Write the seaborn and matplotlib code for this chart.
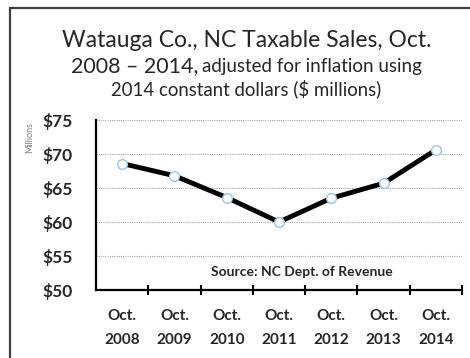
import matplotlib
matplotlib.use("Agg")
import matplotlib.pyplot as plt
from matplotlib.lines import Line2D
from matplotlib.ticker import FixedLocator
import seaborn as sns
import pandas as pd

# Watauga County taxable sales, October of each year, 2014 dollars ($ millions)
years = ["Oct.\n2008", "Oct.\n2009", "Oct.\n2010", "Oct.\n2011",
         "Oct.\n2012", "Oct.\n2013", "Oct.\n2014"]
sales = [68.6, 66.8, 63.6, 60.0, 63.5, 65.7, 70.6]
y_ticks = [50, 55, 60, 65, 70, 75]
y_tick_labels = ["$50", "$55", "$60", "$65", "$70", "$75"]

df = pd.DataFrame({"pos": range(len(years)), "sales": sales})

sns.set_theme(style="white")
plt.rcParams["font.family"] = ["Lato", "DejaVu Sans"]

W, H = 470, 358
fig = plt.figure(figsize=(W / 100, H / 100), dpi=100)
ax = fig.add_axes([96 / W, 1 - 290 / H, 366 / W, 170 / H])

sns.lineplot(data=df, x="pos", y="sales", ax=ax, color="black", linewidth=3.5,
             marker="o", markersize=7, markerfacecolor="white",
             markeredgecolor="#9dc3e6", markeredgewidth=1.0, zorder=3)

ax.set_xlim(-0.5, len(years) - 0.5)
ax.set_ylim(50, 75)
ax.set_xlabel("")
ax.set_ylabel("")

# y axis: bold dollar labels and dotted gridlines
ax.yaxis.set_major_locator(FixedLocator(y_ticks))
ax.set_yticklabels(y_tick_labels, fontsize=12.5, fontweight="bold")
ax.tick_params(axis="y", length=0, pad=17)
ax.grid(axis="y", color="#a6a6a6", linestyle=(0, (1, 1)), linewidth=0.8)

# x axis: labels at category centres, tick marks on category boundaries
ax.xaxis.set_major_locator(FixedLocator(range(len(years))))
ax.set_xticklabels(years, fontsize=11, fontweight="bold", linespacing=1.85)
ax.tick_params(axis="x", which="major", length=0, pad=14)
ax.xaxis.set_minor_locator(FixedLocator([i + 0.5 for i in range(len(years))]))
ax.tick_params(axis="x", which="minor", length=7, width=1.5, direction="inout",
               color="black", bottom=True)

for side in ["top", "right"]:
    ax.spines[side].set_visible(False)
for side in ["left", "bottom"]:
    ax.spines[side].set_color("black")
    ax.spines[side].set_linewidth(1.6)

ax.text(0.563, 0.106, "Source: NC Dept. of Revenue", transform=ax.transAxes,
        ha="center", va="center", fontsize=10, fontweight="bold")

# Title block
title_color = "#262626"
fig.text(246.5 / W, 1 - 47 / H, "Watauga Co., NC Taxable Sales, Oct.",
         ha="center", va="baseline", fontsize=16.5, color=title_color)
fig.text(198 / W, 1 - 72 / H, "2008 \u2013 2014,", ha="right", va="baseline",
         fontsize=15.5, color=title_color)
fig.text(202 / W, 1 - 72 / H, "adjusted for inflation using", ha="left",
         va="baseline", fontsize=13.5, color=title_color)
fig.text(246 / W, 1 - 95 / H, "2014 constant dollars ($ millions)",
         ha="center", va="baseline", fontsize=13.4, color=title_color)

fig.text(30 / W, 1 - 137 / H, "Millions", rotation=90, ha="center",
         va="center", fontsize=6.5, color="#7f7f7f")

# Frame lines along the left and top edges
fig.add_artist(Line2D([10 / W, 10 / W], [0, 1 - 8 / H],
                      transform=fig.transFigure, color="#404040", linewidth=1.6))
fig.add_artist(Line2D([10 / W, 1], [1 - 8 / H, 1 - 8 / H],
                      transform=fig.transFigure, color="#404040", linewidth=1.6))

fig.savefig("out.png", dpi=100, facecolor="white")
